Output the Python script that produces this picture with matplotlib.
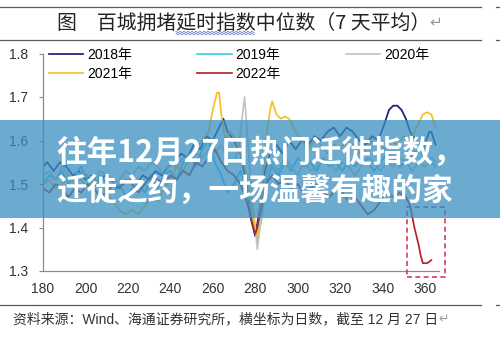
import numpy as np
import matplotlib
matplotlib.use('Agg')
import matplotlib.pyplot as plt
from matplotlib.lines import Line2D
from matplotlib.patches import Rectangle

## {{{                          --     data     --
d2018 = [180, 182, 185, 188, 191, 194, 197, 200, 203, 206, 209, 212, 215, 218, 221, 224, 227,
         230, 233, 236, 239, 242, 245, 248, 251, 254, 257, 260, 263, 265, 267, 270, 273, 276,
         278, 280, 282, 284, 287, 290, 293, 296, 299, 302, 305, 308, 311, 314, 317, 320, 323,
         326, 329, 332, 335, 338, 341, 343, 345, 347, 349, 351, 353, 356, 359, 362, 363, 365]
v2018 = [1.54, 1.55, 1.53, 1.55, 1.54, 1.52, 1.53, 1.51, 1.52, 1.50,
         1.52, 1.51, 1.49, 1.50, 1.51, 1.50, 1.52, 1.51, 1.53, 1.52,
         1.54, 1.55, 1.57, 1.56, 1.59, 1.58, 1.61, 1.60, 1.63, 1.65,
         1.62, 1.60, 1.57, 1.50, 1.42, 1.38, 1.44, 1.52, 1.57, 1.59,
         1.57, 1.60, 1.58, 1.60, 1.59, 1.61, 1.60, 1.62, 1.63, 1.61,
         1.63, 1.62, 1.60, 1.59, 1.61, 1.60, 1.64, 1.67, 1.68, 1.68,
         1.67, 1.65, 1.62, 1.60, 1.58, 1.62, 1.62, 1.59]

d2019 = list(range(180, 277, 3)) + [278, 280, 281, 283, 285] + list(range(288, 364, 3)) + [365]
v2019 = [1.50, 1.52, 1.51, 1.53, 1.50, 1.52, 1.54, 1.51, 1.49, 1.52,
         1.50, 1.48, 1.50, 1.47, 1.49, 1.50, 1.48, 1.51, 1.49, 1.52,
         1.53, 1.51, 1.55, 1.57, 1.54, 1.58, 1.60, 1.55, 1.52, 1.48,
         1.50, 1.53, 1.49, 1.44, 1.39, 1.37, 1.42, 1.50, 1.54, 1.52,
         1.55, 1.53, 1.56, 1.54, 1.55, 1.53, 1.56, 1.54, 1.55, 1.53,
         1.55, 1.54, 1.56, 1.55, 1.53, 1.55, 1.57, 1.56, 1.54, 1.55,
         1.57, 1.58, 1.56, 1.55, 1.54]

d2020 = list(range(180, 271, 3)) + [272, 274, 275, 276, 278, 281, 283, 285] + list(range(288, 364, 3)) + [365]
v2020 = [1.52, 1.53, 1.51, 1.54, 1.52, 1.50, 1.53, 1.52, 1.51, 1.53,
         1.52, 1.50, 1.51, 1.53, 1.52, 1.54, 1.53, 1.55, 1.54, 1.52,
         1.55, 1.54, 1.56, 1.55, 1.57, 1.56, 1.58, 1.57, 1.59, 1.56,
         1.55,
         1.58, 1.66, 1.70, 1.63, 1.50, 1.35, 1.43, 1.52,
         1.55, 1.53, 1.56, 1.54, 1.52, 1.55, 1.53, 1.54, 1.56, 1.55,
         1.53, 1.55, 1.54, 1.52, 1.54, 1.56, 1.55, 1.53, 1.55, 1.54,
         1.56, 1.55, 1.53, 1.55, 1.54, 1.56,
         1.55]

d2021 = (list(range(180, 256, 3))
         + [258, 260, 262, 263, 264, 266, 268, 270, 273, 276,
            278, 281, 283, 285, 287, 288, 290, 292, 294, 296, 299]
         + list(range(302, 360, 3)) + [361, 363, 365])
v2021 = [1.50, 1.51, 1.49, 1.50, 1.52, 1.50, 1.51, 1.49, 1.51, 1.50,
         1.48, 1.46, 1.44, 1.43, 1.44, 1.43, 1.45, 1.47, 1.46, 1.49,
         1.51, 1.54, 1.53, 1.56, 1.58, 1.60,
         1.62, 1.67, 1.71, 1.71, 1.66, 1.60, 1.62, 1.61, 1.57, 1.52,
         1.45, 1.38, 1.48, 1.60, 1.67, 1.69, 1.66, 1.65, 1.655, 1.65, 1.62,
         1.60, 1.58, 1.60, 1.59, 1.57, 1.59, 1.58, 1.60, 1.59, 1.57,
         1.58, 1.60, 1.59, 1.58, 1.60, 1.59, 1.61, 1.60, 1.63, 1.66,
         1.665, 1.66, 1.63]

d2022 = (list(range(180, 277, 3)) + [278, 280, 281, 283, 285]
         + list(range(288, 352, 3)) + [353, 355, 357, 358, 359, 361, 363])
v2022 = [1.49, 1.48, 1.50, 1.49, 1.47, 1.49, 1.48, 1.50, 1.49, 1.47,
         1.48, 1.50, 1.49, 1.51, 1.50, 1.48, 1.50, 1.52, 1.51, 1.50,
         1.52, 1.51, 1.53, 1.52, 1.55, 1.54, 1.56, 1.58, 1.55, 1.53,
         1.52, 1.50, 1.46,
         1.42, 1.385, 1.40, 1.45, 1.50,
         1.52, 1.50, 1.51, 1.49, 1.50, 1.48, 1.49, 1.50, 1.48, 1.47,
         1.49, 1.48, 1.46, 1.47, 1.45, 1.43, 1.44, 1.46, 1.48, 1.47,
         1.48, 1.47,
         1.45, 1.40, 1.36, 1.335, 1.318, 1.318, 1.325]

years = ['2018年', '2019年', '2020年', '2021年', '2022年']
series = [(d2018, v2018), (d2019, v2019), (d2020, v2020), (d2021, v2021), (d2022, v2022)]
colors = ['#1c1f7a', '#3fd0e6', '#c4c4c4', '#f3c321', '#b2262b']

xticks = list(range(180, 361, 20))
yticks = [1.3, 1.4, 1.5, 1.6, 1.7, 1.8]

title = '图　百城拥堵延时指数中位数（7 天平均）'
source = '资料来源：Wind、海通证券研究所，横坐标为日数，截至 12 月 27 日'
banner_lines = ['往年12月27日热门迁徙指数，', '迁徙之约，一场温馨有趣的家']

##────────────────────────────────────────────────────────────────────────────}}}

## {{{                          --     figure     --
plt.rcParams['font.family'] = ['Liberation Sans', 'Noto Sans CJK SC', 'DejaVu Sans']
W, H = 500, 338
fig = plt.figure(figsize=(W / 100, H / 100), dpi=100)
fig.patch.set_facecolor('white')


def fx(px):
    return px / W


def fy(py):
    return 1 - py / H


ax = fig.add_axes([fx(43), fy(271), fx(439) - fx(43), fy(53.5) - fy(271)])
for (d, v), c, lab in zip(series, colors, years):
    ax.plot(d, v, color=c, lw=1.25, label=lab, solid_joinstyle='round')

ax.set_xlim(180, 366.6)
ax.set_ylim(1.3, 1.8)
ax.set_xticks(xticks)
ax.set_yticks(yticks)
ax.set_yticklabels([f'{t:.1f}' for t in yticks])
ax.tick_params(axis='x', length=0, pad=8, labelsize=10, labelcolor='#333333')
ax.tick_params(axis='y', length=3, width=0.8, color='#888888', pad=8, labelsize=10,
               labelcolor='#333333')
for s in ['top', 'right']:
    ax.spines[s].set_visible(False)
for s in ['left', 'bottom']:
    ax.spines[s].set_color('#8c8c8c')
    ax.spines[s].set_linewidth(0.9)

# legend laid out row by row
handles, labels = ax.get_legend_handles_labels()
order = [0, 3, 1, 4, 2]
ax.legend([handles[i] for i in order], [labels[i] for i in order], ncol=3,
          loc='upper left', bbox_to_anchor=(fx(49), fy(47.5)), bbox_transform=fig.transFigure,
          frameon=False, fontsize=10, handlelength=2.45, handletextpad=0.3,
          columnspacing=4.7, borderpad=0, borderaxespad=0, labelspacing=0.4)

# dashed box around the 2022 drop
ax.add_patch(Rectangle((351.5, 1.286), 17.9, 0.161, fill=False, ec='#d43b60', lw=1.2,
                       ls=(0, (3, 2)), clip_on=False, zorder=5))

##────────────────────────────────────────────────────────────────────────────}}}

## {{{                          --     page decorations     --
for py in (7, 40, 305):
    fig.add_artist(Line2D([0, fx(481)], [fy(py), fy(py)], transform=fig.transFigure,
                          color='#5a5a5a', lw=0.9))
    fig.add_artist(Line2D([fx(496), 1], [fy(py), fy(py)], transform=fig.transFigure,
                          color='#5a5a5a', lw=0.9))

fig.text(fx(57), fy(23), title, fontsize=14.3, color='#222222', va='center',
         family=['Noto Sans CJK SC', 'DejaVu Sans'])
fig.text(fx(429), fy(22), '↵', fontsize=11, color='#9a9a9a', va='center',
         family=['DejaVu Sans'])

# wavy underline below 延时指数
wx = np.arange(176, 255, 2.0)
wy = 32 + np.where(np.arange(len(wx)) % 2 == 0, -0.8, 0.8)
fig.add_artist(Line2D(fx(wx), fy(wy), transform=fig.transFigure, color='#6f7fd4', lw=0.6))
fig.add_artist(Line2D(fx(wx), fy(wy + 2), transform=fig.transFigure, color='#6f7fd4', lw=0.6))

fig.text(fx(13), fy(319), source, fontsize=10, color='#333333', va='center')
fig.text(fx(438), fy(319), '↵', fontsize=9, color='#9a9a9a', va='center',
         family=['DejaVu Sans'])

# translucent banner over the plot
fig.add_artist(Rectangle((0, fy(218)), 1, fy(120) - fy(218), transform=fig.transFigure,
                         fc='#3a8fc0', ec='none', alpha=0.75, zorder=10))
for py, line in zip((153, 191), banner_lines):
    fig.text(fx(56), fy(py), line, fontsize=22, color='white', fontweight='heavy',
             va='center', family=['Noto Sans CJK SC'], zorder=11)

fig.savefig('out.png', dpi=100)
##────────────────────────────────────────────────────────────────────────────}}}
